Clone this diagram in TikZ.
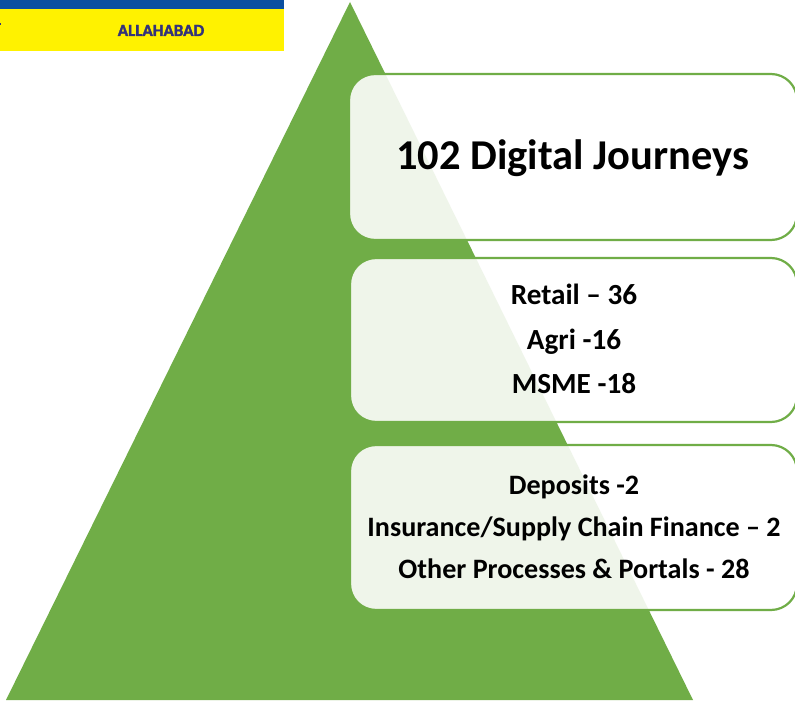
\documentclass[tikz,border=0pt]{standalone}
\usepackage{fontspec}
\setmainfont{Carlito}
\newfontfamily\logofont[BoldFont=Carlito Bold,BoldFeatures={FakeBold=2}]{Carlito}
\definecolor{pgreen}{HTML}{70AD47}
\definecolor{bandblue}{HTML}{0B4FA0}
\definecolor{bandyellow}{HTML}{FFF200}
\definecolor{bandtext}{HTML}{33337A}
\tikzset{
  x=1pt,y=-1pt,
  jbox/.style={draw=pgreen,line width=2.2pt,fill=white,fill opacity=.89,draw opacity=1,text opacity=1,rounded corners=26pt},
  jtext/.style={font=\bfseries\fontsize{28.1}{32}\selectfont,text=black,anchor=base,inner sep=0pt},
  jtextb/.style={font=\bfseries\fontsize{29.2}{33}\selectfont,text=black,anchor=base,inner sep=0pt},
  jtitle/.style={font=\bfseries\fontsize{42.5}{48}\selectfont,text=black,anchor=base,inner sep=0pt},
  bandlabel/.style={font=\logofont\bfseries\fontsize{17}{20}\selectfont,text=bandtext,anchor=base,inner sep=0pt}
}
\begin{document}
\begin{tikzpicture}
\useasboundingbox (0,0) rectangle (795,703);
\clip (0,0) rectangle (795,703);
\fill[white] (0,0) rectangle (795,703);
% logo strip
\fill[bandyellow] (0,9) rectangle (284,51);
\fill[bandblue] (0,0) rectangle (284,9);
\fill[bandtext] (0,23.5) rectangle (1.2,25.5);
\node[bandlabel] (logo) at (161,36) {ALLAHABAD};
% pyramid
\fill[pgreen] (350,2) -- (693,700) -- (6,700) -- cycle;
% boxes
\draw[jbox] (349,74) rectangle (797,240);
\draw[jbox] (350,258) rectangle (797,422);
\draw[jbox] (350,445) rectangle (797,610);
% texts
\node[jtitle] (title) at (572.5,170) {102 Digital Journeys};
\node[jtextb] (r1) at (574,305) {Retail – 36};
\node[jtextb] (r2) at (574,349.5) {Agri -16};
\node[jtextb] (r3) at (574,393.5) {MSME -18};
\node[jtext] (d1) at (574,494) {Deposits -2};
\node[jtext] (d2) at (574,536) {Insurance/Supply Chain Finance – 2};
\node[jtext] (d3) at (574,578) {Other Processes \& Portals - 28};
\end{tikzpicture}
\end{document}
